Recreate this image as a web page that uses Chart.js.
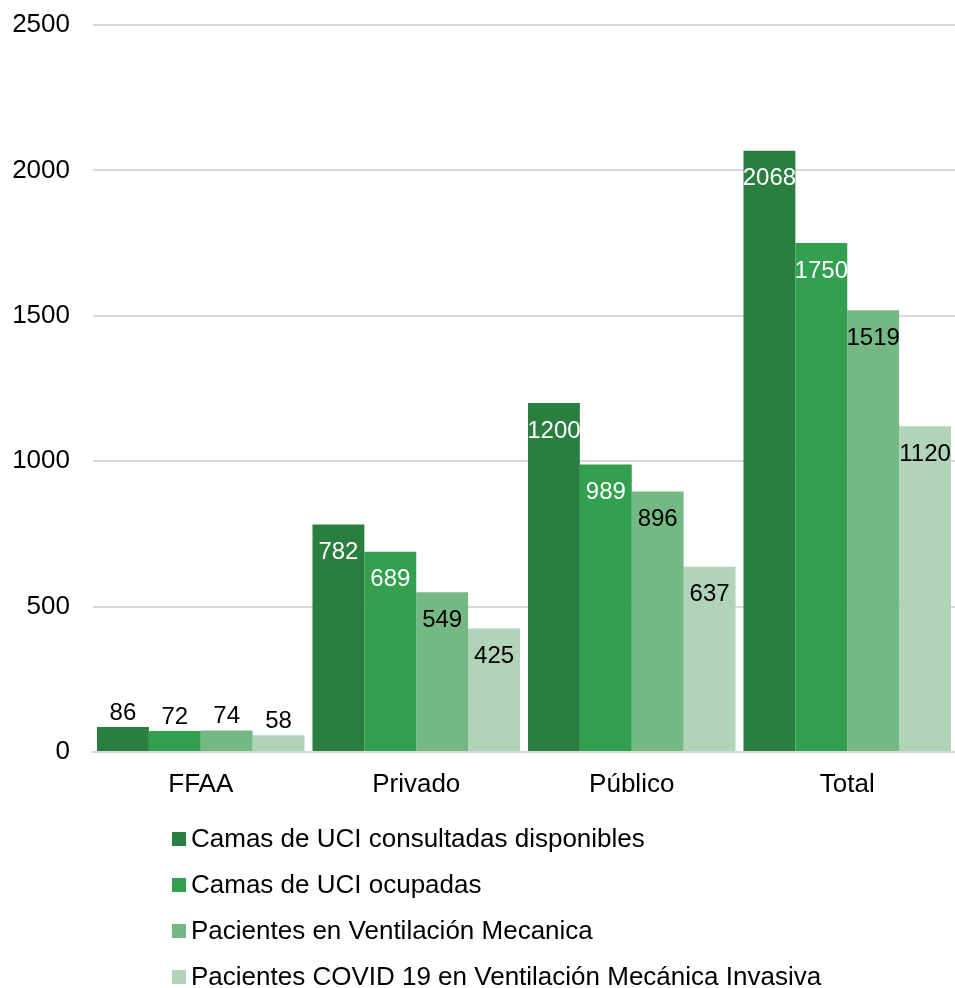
<!DOCTYPE html>
<html lang="es">
<head>
<meta charset="UTF-8">
<title>Camas UCI</title>
<script src="https://cdn.jsdelivr.net/npm/chart.js"></script>
<style>
  html, body { margin: 0; padding: 0; background: #fff; }
  #wrap { width: 955px; height: 988px; position: relative; }
</style>
</head>
<body>
<div id="wrap"><canvas id="chart"></canvas></div>
<script>
const categories = ["FFAA", "Privado", "Público", "Total"];
const seriesNames = [
    "Camas de UCI consultadas disponibles",
    "Camas de UCI ocupadas",
    "Pacientes en Ventilación Mecanica",
    "Pacientes COVID 19 en Ventilación Mecánica Invasiva"
];
const camasDisponibles = [86, 782, 1200, 2068];
const camasOcupadas = [72, 689, 989, 1750];
const ventilacion = [74, 549, 896, 1519];
const covidVentilacion = [58, 425, 637, 1120];
const yTicks = [0, 500, 1000, 1500, 2000, 2500];

const colors = ["#2a7f40", "#32a04f", "#74b983", "#b1d3b8"];
const labelColors = ["#ffffff", "#ffffff", "#000000", "#000000"];
const FONT = "Liberation Sans, Arial, sans-serif";

// value labels: inside the top of each bar, above it when the bar is too short
const valueLabels = {
    id: "valueLabels",
    afterDatasetsDraw(chart) {
        const ctx = chart.ctx;
        ctx.save();
        ctx.font = "24px " + FONT;
        ctx.textAlign = "center";
        ctx.textBaseline = "middle";
        chart.data.datasets.forEach((ds, i) => {
            chart.getDatasetMeta(i).data.forEach((bar, j) => {
                const h = bar.base - bar.y;
                let y, color;
                if (h > 45) {
                    y = bar.y + 28;
                    color = labelColors[i];
                } else {
                    y = Math.min(bar.y - 14, bar.base - 30);
                    color = "#000000";
                }
                ctx.fillStyle = color;
                ctx.fillText(String(ds.data[j]), bar.x, y);
            });
        });
        ctx.restore();
    }
};

// stacked legend under the chart
const stackedLegend = {
    id: "stackedLegend",
    afterDraw(chart) {
        const ctx = chart.ctx;
        ctx.save();
        ctx.font = "26px " + FONT;
        ctx.textBaseline = "middle";
        const x0 = 172;
        let y = 839;
        chart.data.datasets.forEach(ds => {
            ctx.fillStyle = ds.backgroundColor;
            ctx.fillRect(x0, y - 7, 14, 14);
            ctx.fillStyle = "#000000";
            ctx.fillText(ds.label, x0 + 19, y + 1);
            y += 46;
        });
        ctx.restore();
    }
};

const seriesData = [camasDisponibles, camasOcupadas, ventilacion, covidVentilacion];

new Chart(document.getElementById("chart"), {
    type: "bar",
    data: {
        labels: categories,
        datasets: seriesData.map((d, i) => ({
            label: seriesNames[i],
            data: d,
            backgroundColor: colors[i],
            borderWidth: 0,
            categoryPercentage: 0.963,
            barPercentage: 1.0
        }))
    },
    options: {
        responsive: true,
        maintainAspectRatio: false,
        animation: false,
        layout: { padding: { top: 25, right: 0, bottom: 186, left: 0 } },
        plugins: {
            legend: { display: false },
            tooltip: { enabled: false }
        },
        scales: {
            x: {
                grid: { display: false },
                border: { display: true, color: "#d9d9d9", width: 2 },
                ticks: { color: "#000", font: { family: FONT, size: 26 }, padding: 9 },
                afterFit: s => { s.height = 50; }
            },
            y: {
                min: 0,
                max: 2500,
                afterBuildTicks: s => { s.ticks = yTicks.map(v => ({ value: v })); },
                grid: { color: "#d9d9d9", lineWidth: 2, drawTicks: false },
                border: { display: false },
                ticks: {
                    color: "#000",
                    font: { family: FONT, size: 26 },
                    padding: 23,
                    callback: v => String(v)
                },
                afterFit: s => { s.width = 93; s.paddingTop = 0; s.paddingBottom = 0; }
            }
        }
    },
    plugins: [valueLabels, stackedLegend]
});
</script>
</body>
</html>
